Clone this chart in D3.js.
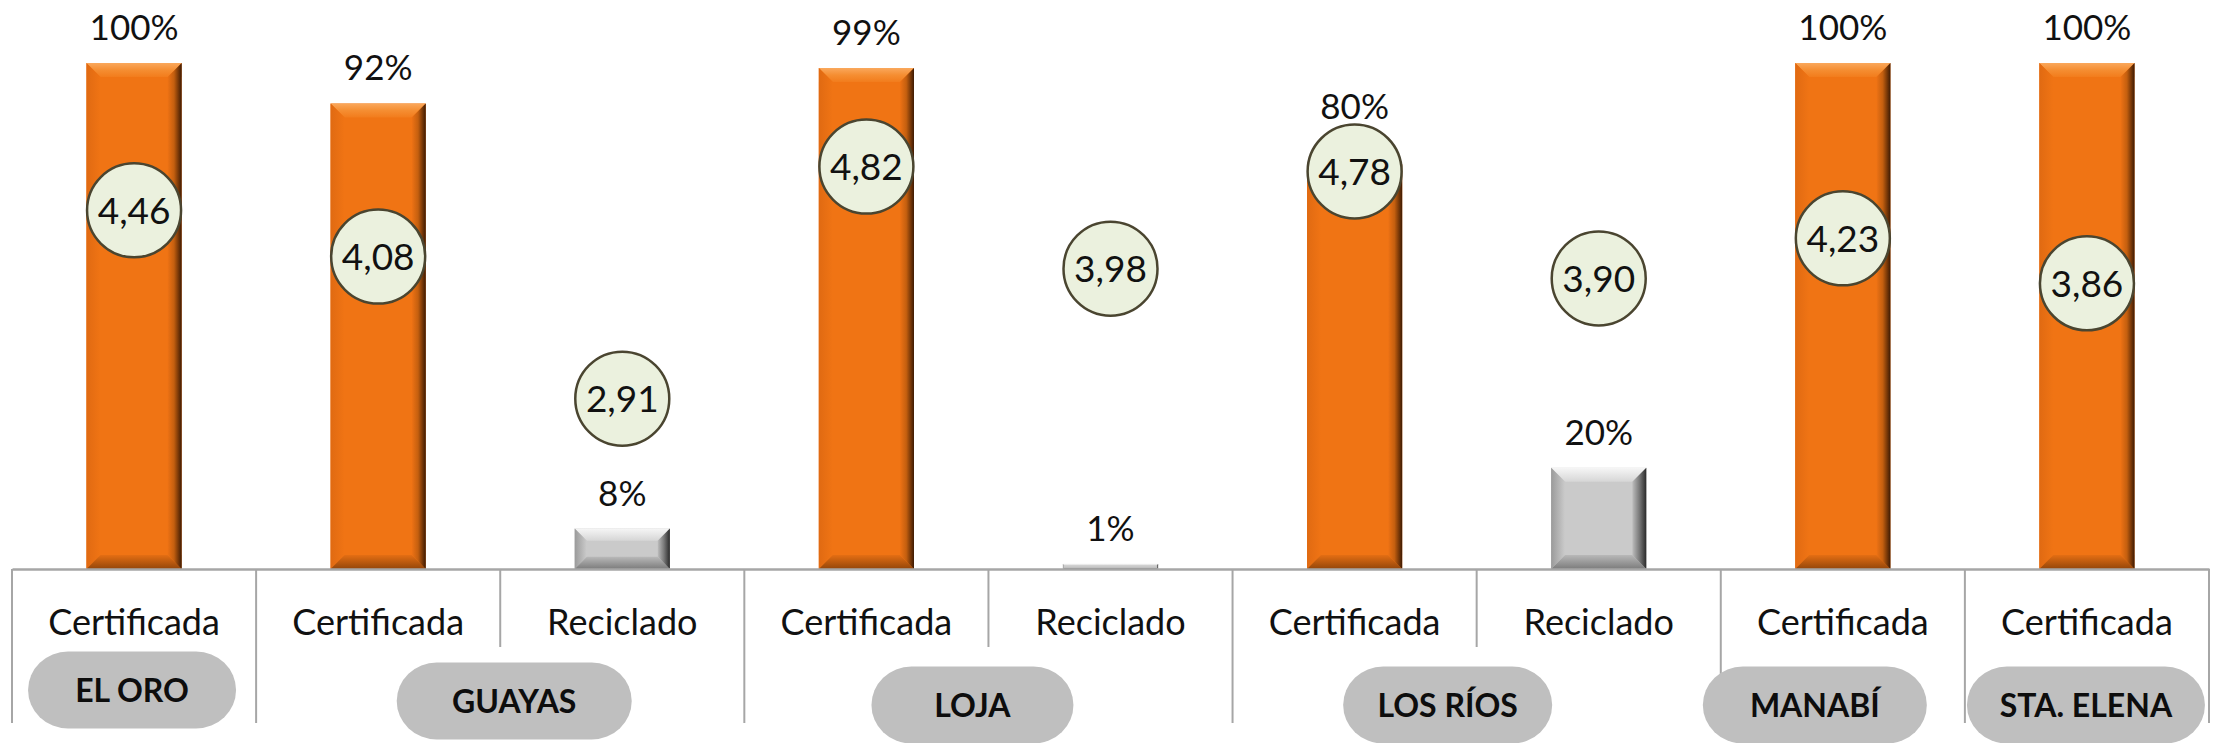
<!DOCTYPE html>
<html>
<head>
<meta charset="utf-8">
<script src="https://cdn.jsdelivr.net/npm/d3@7"></script>
<style>
body { margin: 0; background: #fff; }
svg { display: block; font-family: Lato, "Open Sans", sans-serif; }
</style>
</head>
<body>
<svg id="chart" width="2213" height="743"></svg>
<script>
// datos del gráfico
const provincias = ["EL ORO", "GUAYAS", "LOJA", "LOS RÍOS", "MANABÍ", "STA. ELENA"];
const tipos = ["Certificada", "Certificada", "Reciclado", "Certificada", "Reciclado", "Certificada", "Reciclado", "Certificada", "Certificada"];
const provinciaDe = ["EL ORO", "GUAYAS", "GUAYAS", "LOJA", "LOJA", "LOS RÍOS", "LOS RÍOS", "MANABÍ", "STA. ELENA"];
const porcentajes = [1.00, 0.92, 0.08, 0.99, 0.01, 0.80, 0.20, 1.00, 1.00];
const puntajes = [4.46, 4.08, 2.91, 4.82, 3.98, 4.78, 3.90, 4.23, 3.86];

const svg = d3.select("#chart");
const ejeY = 569;

// escalas
const x = d3.scaleBand().domain(d3.range(tipos.length)).range([12, 2209]).padding(0);
const y = d3.scaleLinear().domain([0, 1]).range([ejeY, 63]);
const yPuntaje = d3.scaleLinear().domain([1.5, 5.5]).range([570, 84]);

const fmtPct = d3.format(".0%");
const fmtComa = d3.formatLocale({decimal: ",", thousands: ".", grouping: [3], currency: ["$", ""]}).format(".2f");

// degradados para el efecto biselado de las barras
const defs = svg.append("defs");
function degradado (id, vertical, stops) {
	const g = defs.append("linearGradient").attr("id", id)
		.attr("x1", 0).attr("y1", 0)
		.attr("x2", vertical ? 0 : 1).attr("y2", vertical ? 1 : 0);
	stops.forEach(s => g.append("stop").attr("offset", s[0]).attr("stop-color", s[1]));
}
degradado("naranja-top", true, [[0, "#FAA85C"], [0.5, "#F58E32"], [1, "#F27C1C"]]);
degradado("naranja-left", false, [[0, "#E06A12"], [1, "#F07414"]]);
degradado("naranja-right", false, [[0, "#EE7214"], [0.45, "#C45F0F"], [1, "#3D1A03"]]);
degradado("naranja-bottom", true, [[0, "#E46E13"], [1, "#94460A"]]);
degradado("gris-top", true, [[0, "#F6F6F6"], [1, "#D6D6D6"]]);
degradado("gris-left", false, [[0, "#9A9A9A"], [1, "#CBCBCB"]]);
degradado("gris-right", false, [[0, "#BDBDBD"], [0.5, "#7A7A7A"], [1, "#2A2A2A"]]);
degradado("gris-bottom", true, [[0, "#B8B8B8"], [1, "#7C7C7C"]]);

const paletas = {
	"Certificada": {cara: "#F07414", id: "naranja"},
	"Reciclado": {cara: "#CACACA", id: "gris"}
};

// dibuja una barra con bisel (cara + 4 trapecios)
function barraBisel (g, x0, y0, w, h, pal) {
	const x1 = x0 + w, y1 = y0 + h;
	const b = Math.min(14, h * 0.3);
	g.append("rect").attr("x", x0).attr("y", y0).attr("width", w).attr("height", h).attr("fill", pal.cara);
	const caras = [
		["top", [[x0, y0], [x1, y0], [x1 - b, y0 + b], [x0 + b, y0 + b]]],
		["left", [[x0, y0], [x0 + b, y0 + b], [x0 + b, y1 - b], [x0, y1]]],
		["bottom", [[x0, y1], [x0 + b, y1 - b], [x1 - b, y1 - b], [x1, y1]]],
		["right", [[x1, y0], [x1, y1], [x1 - b, y1 - b], [x1 - b, y0 + b]]]
	];
	caras.forEach(c => {
		g.append("polygon")
			.attr("points", c[1].map(p => p.join(",")).join(" "))
			.attr("fill", "url(#" + pal.id + "-" + c[0] + ")");
	});
}

// barras
const anchoBarra = x.bandwidth() * 0.39;
const gBarras = svg.append("g");
porcentajes.forEach((v, i) => {
	const x0 = x(i) + (x.bandwidth() - anchoBarra) / 2;
	barraBisel(gBarras.append("g"), x0, y(v), anchoBarra, ejeY - y(v), paletas[tipos[i]]);
});

// eje inferior con las categorías
const eje = svg.append("g")
	.attr("transform", "translate(0," + ejeY + ")")
	.call(d3.axisBottom(x).tickSize(0).tickPadding(40).tickFormat(i => tipos[i]));
eje.select(".domain").attr("stroke", "#A6A6A6").attr("stroke-width", 2.5);
eje.selectAll("text")
	.attr("font-family", "Lato, sans-serif")
	.attr("font-size", 36)
	.attr("fill", "#111");

// líneas divisorias: largas entre provincias, cortas dentro de una provincia
const bordes = d3.range(tipos.length + 1);
svg.append("g").selectAll("line")
	.data(bordes)
	.join("line")
	.attr("x1", i => i < tipos.length ? x(i) : x.range()[1])
	.attr("x2", i => i < tipos.length ? x(i) : x.range()[1])
	.attr("y1", ejeY)
	.attr("y2", i => (i > 0 && i < tipos.length && provinciaDe[i] == provinciaDe[i - 1]) ? 647 : 723)
	.attr("stroke", "#A6A6A6")
	.attr("stroke-width", 2);

// círculos con el puntaje
const gPunt = svg.append("g").selectAll("g")
	.data(puntajes)
	.join("g")
	.attr("transform", (d, i) => "translate(" + (x(i) + x.bandwidth() / 2) + "," + yPuntaje(d) + ")");
gPunt.append("circle")
	.attr("r", 47)
	.attr("fill", "#EBF1DE")
	.attr("stroke", "#4A4530")
	.attr("stroke-width", 2.5);
gPunt.append("text")
	.attr("text-anchor", "middle")
	.attr("dy", "0.36em")
	.attr("font-size", 37)
	.attr("fill", "#111")
	.text(d => fmtComa(d));

// etiquetas de porcentaje sobre cada barra (encima de los círculos)
// la de Los Ríos certificada estaba movida hacia arriba en el original
const subirEtiqueta = {5: 22};
svg.append("g").selectAll("text")
	.data(porcentajes)
	.join("text")
	.attr("x", (d, i) => x(i) + x.bandwidth() / 2)
	.attr("y", (d, i) => y(d) - 23 - (subirEtiqueta[i] || 0))
	.attr("text-anchor", "middle")
	.attr("font-size", 35)
	.attr("fill", "#111")
	.text(d => fmtPct(d));

// píldoras con el nombre de la provincia (ajustes a mano como en el original)
const ajustePildora = {
	"EL ORO": {dx: -2, cy: 690, w: 208},
	"GUAYAS": {dx: 14, cy: 701, w: 235},
	"LOJA": {dx: -16, cy: 705, w: 202},
	"LOS RÍOS": {dx: -29, cy: 705, w: 209},
	"MANABÍ": {dx: -28, cy: 705, w: 224},
	"STA. ELENA": {dx: -1, cy: 705, w: 238}
};
provincias.forEach(p => {
	const idx = d3.range(tipos.length).filter(i => provinciaDe[i] == p);
	const xa = x(idx[0]), xb = x(idx[idx.length - 1]) + x.bandwidth();
	const a = ajustePildora[p];
	const cx = (xa + xb) / 2 + a.dx;
	const g = svg.append("g").attr("transform", "translate(" + cx + "," + a.cy + ")");
	g.append("rect")
		.attr("x", -a.w / 2).attr("y", -38.5)
		.attr("width", a.w).attr("height", 77)
		.attr("rx", 40).attr("ry", 38.5)
		.attr("fill", "#BFBFBF");
	g.append("text")
		.attr("text-anchor", "middle")
		.attr("dy", "0.36em")
		.attr("font-size", 32)
		.attr("font-weight", "bold")
		.attr("fill", "#0D0D0D")
		.text(p);
});
</script>
</body>
</html>
